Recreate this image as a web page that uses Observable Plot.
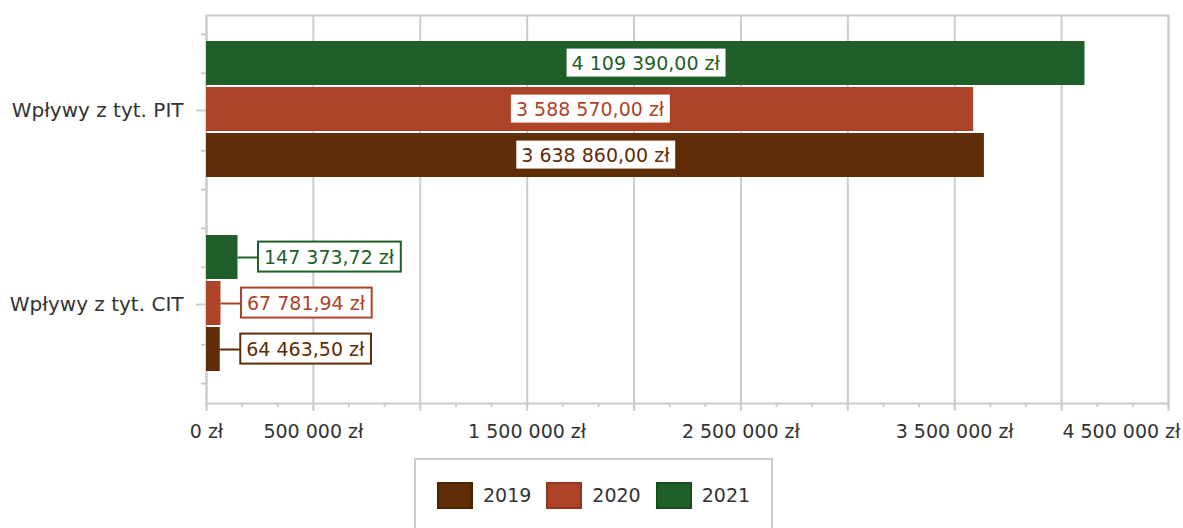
<!DOCTYPE html>
<html>
<head>
<meta charset="utf-8">
<script src="https://cdn.jsdelivr.net/npm/d3@7"></script>
<script src="https://cdn.jsdelivr.net/npm/@observablehq/plot@0.6"></script>
<style>
  body { margin: 0; background: #fff; font-family: "DejaVu Sans", Verdana, sans-serif; }
  #wrap { position: relative; width: 1183px; height: 528px; overflow: hidden; background: #fff; }
  #legend { position: absolute; left: 414px; top: 458px; width: 359px; height: 110px; box-sizing: border-box;
            border: 2px solid #ccc; display: flex; align-items: flex-start; padding: 22px 0 0 21px; }
  .item { display: flex; align-items: center; margin-right: 15px; }
  .sw { width: 36px; height: 27px; box-sizing: border-box; border: 2px solid; margin-right: 10px; }
  .lt { font-size: 19px; color: #333; line-height: 27px; }
</style>
</head>
<body>
<div id="wrap"><div id="chart"></div><div id="legend"></div></div>
<script>
const categories = ["Wpływy z tyt. PIT", "Wpływy z tyt. CIT"];
const years = ["2019", "2020", "2021"];
const colors = ["#5f2d08", "#ad4328", "#1e5f2a"];
const swatchBorders = ["#4a2305", "#93361f", "#174d21"];
const pitValues = [3638860.00, 3588570.00, 4109390.00];
const citValues = [64463.50, 67781.94, 147373.72];
const xLabelTicks = [0, 500000, 1500000, 2500000, 3500000];
const xLastLabelTick = [4500000];
const xMajorTicks = [0, 500000, 1000000, 1500000, 2000000, 2500000, 3000000, 3500000, 4000000, 4500000];
const xMinorTicks = d3.range(0, 4500001, 500000 / 3);

const rows = [];
years.forEach((y, i) => {
  rows.push({cat: categories[0], year: y, value: pitValues[i]});
  rows.push({cat: categories[1], year: y, value: citValues[i]});
});
const pitRows = rows.filter(d => d.cat === categories[0]);
const citRows = rows.filter(d => d.cat === categories[1]);

const pl = d3.formatLocale({decimal: ",", thousands: " ", grouping: [3], currency: ["", " zł"]});
const fmtVal = v => pl.format(",.2f")(v) + " zł";
const fmtTick = v => pl.format(",")(v) + " zł";

const gray = "#cccccc";

function yMinorTicks(index, scales, values, dimensions) {
  const top = dimensions.marginTop;
  const bottom = dimensions.height - dimensions.marginBottom;
  const x = dimensions.marginLeft;
  const g = d3.create("svg:g");
  [0.1, 0.3, 0.7, 0.9].forEach(f => {
    const yy = top + (bottom - top) * f;
    g.append("line").attr("x1", x - 5).attr("x2", x).attr("y1", yy).attr("y2", yy)
      .attr("stroke", gray).attr("stroke-width", 2);
  });
  return g.node();
}

const chart = Plot.plot({
  width: 1183,
  height: 450,
  marginTop: 15,
  marginLeft: 206,
  marginRight: 15,
  marginBottom: 47,
  style: {fontFamily: "'DejaVu Sans', Verdana, sans-serif", fontSize: "19px", color: "#333", background: "#fff"},
  x: {domain: [0, 4500000], axis: null},
  y: {domain: ["2021", "2020", "2019"], paddingInner: 0.043, paddingOuter: 0.6, align: 0.45, axis: null},
  fy: {domain: categories, padding: 0, axis: null},
  color: {domain: years, range: colors},
  marks: [
    Plot.gridX(xMajorTicks, {stroke: gray, strokeOpacity: 1, strokeWidth: 2}),
    Plot.frame({stroke: gray, strokeWidth: 2, facet: "super"}),
    Plot.axisFy({anchor: "left", tickSize: 10, tickPadding: 13, stroke: gray, strokeWidth: 2, fill: "#333", fontSize: 20, dy: -2, label: null}),
    yMinorTicks,
    Plot.axisX({ticks: xMajorTicks, anchor: "bottom", tickSize: 8, tickFormat: () => "", stroke: gray, strokeWidth: 2, label: null}),
    Plot.axisX({ticks: xMinorTicks, anchor: "bottom", tickSize: 4, tickFormat: () => "", stroke: gray, strokeWidth: 2, label: null}),
    Plot.axisX({ticks: xLabelTicks, anchor: "bottom", tickSize: 0, tickPadding: 21, tickFormat: fmtTick, fill: "#333", fontSize: 19, label: null}),
    Plot.axisX({ticks: xLastLabelTick, anchor: "bottom", tickSize: 0, tickPadding: 21, tickFormat: fmtTick, fill: "#333", fontSize: 19, textAnchor: "end", dx: 12, label: null}),
    Plot.barX(rows, {x: "value", y: "year", fy: "cat", fill: "year"}),
    Plot.ruleY(citRows, {y: "year", fy: "cat", x1: "value", x2: "value", insetRight: -20, stroke: "year", strokeWidth: 2}),
    Plot.text(pitRows, {x: d => d.value / 2, y: "year", fy: "cat", text: d => fmtVal(d.value), fill: "year", fontSize: 19, className: "vlabel"}),
    Plot.text(citRows, {x: "value", y: "year", fy: "cat", text: d => fmtVal(d.value), fill: "year", fontSize: 19, textAnchor: "start", dx: 26, className: "vlabel"})
  ]
});
document.getElementById("chart").appendChild(chart);

// white boxes behind value labels
d3.select(chart).selectAll(".vlabel text").each(function() {
  const t = this;
  const bb = t.getBBox();
  const fill = t.getAttribute("fill") || t.parentNode.getAttribute("fill");
  const r = document.createElementNS("http://www.w3.org/2000/svg", "rect");
  r.setAttribute("x", bb.x - 6);
  r.setAttribute("y", bb.y - 4);
  r.setAttribute("width", bb.width + 12);
  r.setAttribute("height", bb.height + 8);
  r.setAttribute("fill", "#fff");
  r.setAttribute("stroke", fill);
  r.setAttribute("stroke-width", 2);
  if (t.getAttribute("transform")) r.setAttribute("transform", t.getAttribute("transform"));
  t.parentNode.insertBefore(r, t);
});

const legend = d3.select("#legend");
years.forEach((y, i) => {
  const it = legend.append("div").attr("class", "item");
  it.append("div").attr("class", "sw").style("background", colors[i]).style("border-color", swatchBorders[i]);
  it.append("div").attr("class", "lt").text(y);
});
</script>
</body>
</html>
